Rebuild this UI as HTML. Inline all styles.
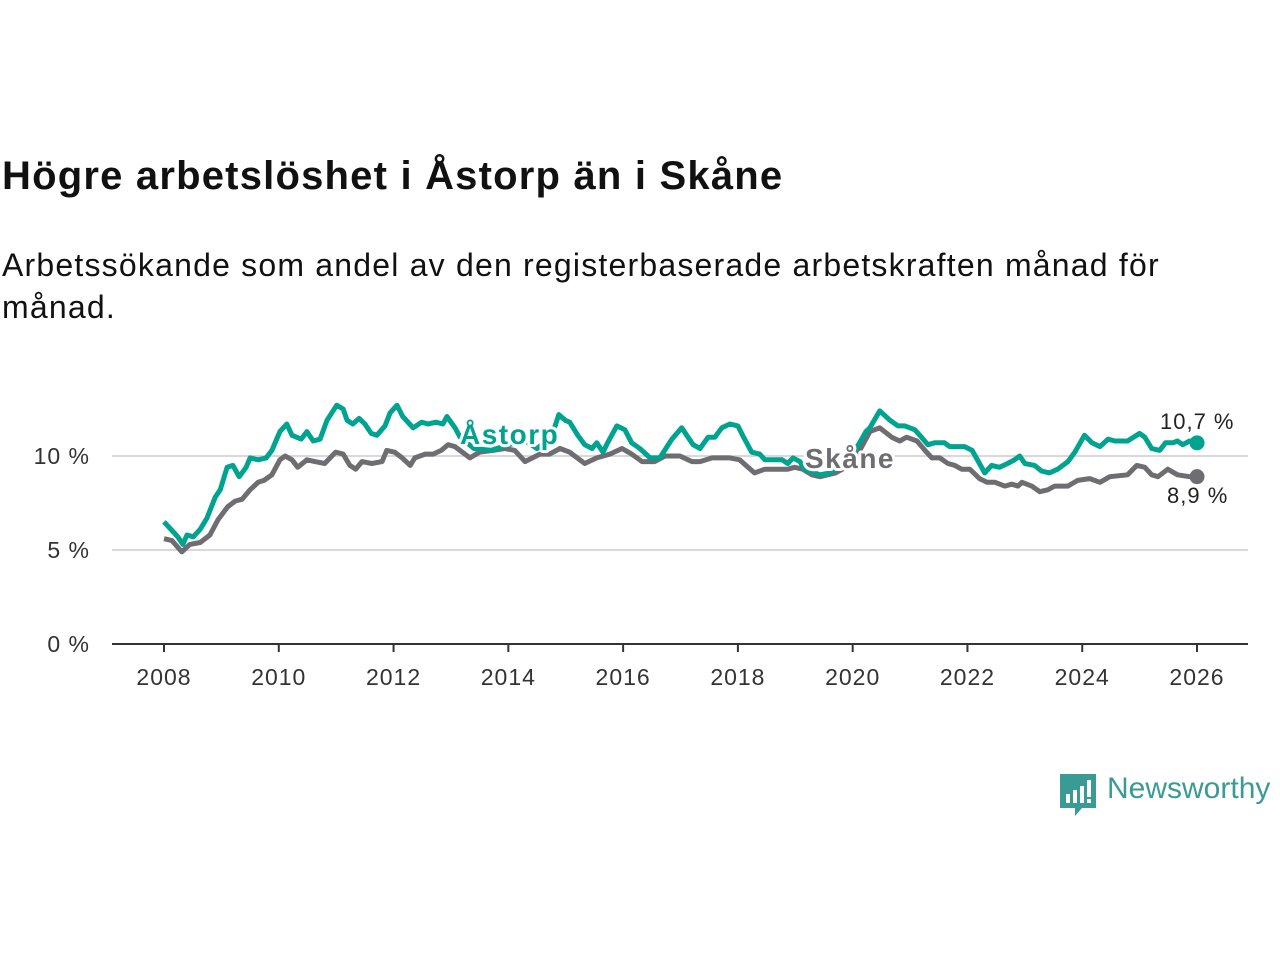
<!DOCTYPE html>
<html><head><meta charset="utf-8"><style>
body{margin:0;width:1280px;height:960px;background:#fff;font-family:"Liberation Sans",sans-serif;overflow:hidden;position:relative}
h1{position:absolute;left:2px;top:154px;margin:0;font-size:40px;font-weight:bold;color:#111;letter-spacing:1.2px}
p{position:absolute;left:2px;top:244px;margin:0;font-size:32px;line-height:42px;color:#111;width:1190px;letter-spacing:1.2px}
.logo{position:absolute;left:1060px;top:774px}
.brand{position:absolute;left:1107px;top:772px;font-size:30px;color:#3a9a94}
</style></head><body>
<h1>Högre arbetslöshet i Åstorp än i Skåne</h1>
<p>Arbetssökande som andel av den registerbaserade arbetskraften månad för månad.</p>
<svg id="chart" width="1280" height="960" style="position:absolute;left:0;top:0"></svg>
<svg class="logo" width="36" height="44" viewBox="0 0 36 44"><path d="M0 0H36V34H22L15 42V34H0Z" fill="#3a9a94"/><rect x="6" y="20" width="4" height="9" fill="#fff"/><rect x="13" y="16" width="4" height="13" fill="#fff"/><rect x="20" y="12" width="4" height="17" fill="#fff"/><rect x="27" y="6" width="4" height="17" fill="#fff"/><rect x="27" y="25" width="4" height="4" fill="#fff"/></svg>
<div class="brand">Newsworthy</div>
<script>
const yearTicks=[2008,2010,2012,2014,2016,2018,2020,2022,2024,2026];
const yTicks=[0,5,10];
const astorpT=[0,0.24,0.33,0.40,0.51,0.63,0.75,0.89,0.98,1.10,1.20,1.31,1.43,1.50,1.64,1.78,1.88,2.02,2.14,2.23,2.39,2.49,2.60,2.72,2.84,3.01,3.12,3.19,3.29,3.40,3.50,3.61,3.71,3.85,3.94,4.06,4.16,4.34,4.49,4.60,4.74,4.86,4.93,5.07,5.16,5.4,5.7,6.0,6.3,6.5,6.75,6.88,6.99,7.07,7.21,7.33,7.46,7.54,7.65,7.73,7.89,8.03,8.15,8.29,8.47,8.64,8.85,9.02,9.22,9.34,9.48,9.60,9.72,9.86,10.00,10.10,10.24,10.38,10.47,10.64,10.77,10.87,10.96,11.08,11.16,11.43,11.6,11.8,11.95,12.12,12.23,12.30,12.47,12.65,12.79,12.91,13.08,13.20,13.31,13.43,13.60,13.69,13.95,14.08,14.30,14.42,14.56,14.70,14.82,14.91,15.00,15.17,15.29,15.43,15.57,15.75,15.87,16.04,16.17,16.31,16.45,16.57,16.79,17.00,17.09,17.21,17.35,17.45,17.58,17.66,17.75,17.87,18.0];
const astorpV=[6.5,5.7,5.3,5.8,5.7,6.1,6.7,7.8,8.2,9.4,9.5,8.9,9.4,9.9,9.8,9.9,10.3,11.3,11.7,11.1,10.9,11.3,10.8,10.9,11.9,12.7,12.5,11.9,11.7,12.0,11.7,11.2,11.1,11.6,12.3,12.7,12.1,11.5,11.8,11.7,11.8,11.7,12.1,11.5,11.0,10.4,10.3,10.6,10.8,10.4,11.0,12.2,11.9,11.8,11.1,10.6,10.4,10.7,10.2,10.7,11.6,11.4,10.7,10.4,9.9,9.9,10.9,11.5,10.6,10.4,11.0,11.0,11.5,11.7,11.6,11.0,10.2,10.1,9.8,9.8,9.8,9.6,9.9,9.7,9.3,9.0,9.1,9.5,9.9,10.7,11.3,11.5,12.4,11.9,11.6,11.6,11.4,11.0,10.6,10.7,10.7,10.5,10.5,10.3,9.1,9.5,9.4,9.6,9.8,10.0,9.6,9.5,9.2,9.1,9.3,9.7,10.2,11.1,10.7,10.5,10.9,10.8,10.8,11.2,11.0,10.4,10.3,10.7,10.7,10.8,10.6,10.8,10.7];
const skaneT=[0,0.14,0.31,0.45,0.63,0.80,0.94,1.11,1.24,1.36,1.50,1.64,1.74,1.88,2.02,2.11,2.23,2.33,2.49,2.63,2.80,2.99,3.12,3.24,3.34,3.45,3.62,3.80,3.88,4.02,4.15,4.29,4.37,4.55,4.69,4.83,4.95,5.07,5.33,5.50,5.73,5.94,6.11,6.29,6.55,6.72,6.90,7.07,7.33,7.54,7.77,7.98,8.15,8.33,8.55,8.73,8.99,9.20,9.34,9.55,9.86,10.03,10.14,10.29,10.47,10.68,10.87,10.99,11.13,11.29,11.43,11.7,12.0,12.09,12.30,12.47,12.68,12.82,12.94,13.12,13.26,13.38,13.52,13.66,13.78,13.90,14.04,14.21,14.34,14.48,14.65,14.77,14.88,14.95,15.12,15.26,15.40,15.52,15.75,15.92,16.13,16.31,16.48,16.79,16.95,17.09,17.21,17.32,17.49,17.66,17.87,18.0];
const skaneV=[5.6,5.5,4.9,5.3,5.4,5.8,6.6,7.3,7.6,7.7,8.2,8.6,8.7,9.0,9.8,10.0,9.8,9.4,9.8,9.7,9.6,10.2,10.1,9.5,9.3,9.7,9.6,9.7,10.3,10.2,9.9,9.5,9.9,10.1,10.1,10.3,10.6,10.5,9.9,10.2,10.3,10.4,10.3,9.7,10.1,10.1,10.4,10.2,9.6,9.9,10.1,10.4,10.1,9.7,9.7,10.0,10.0,9.7,9.7,9.9,9.9,9.8,9.5,9.1,9.3,9.3,9.3,9.4,9.3,9.0,8.9,9.1,9.6,10.1,11.3,11.5,11.0,10.8,11.0,10.8,10.3,9.9,9.9,9.6,9.5,9.3,9.3,8.8,8.6,8.6,8.4,8.5,8.4,8.6,8.4,8.1,8.2,8.4,8.4,8.7,8.8,8.6,8.9,9.0,9.5,9.4,9.0,8.9,9.3,9.0,8.9,8.9];
const NS='http://www.w3.org/2000/svg';
const svg=document.getElementById('chart');
const x=t=>164+(t-2008)*57.39;
const y=v=>644-v*18.8;
function mk(tag,attrs,parent){const e=document.createElementNS(NS,tag);for(const k in attrs)e.setAttribute(k,attrs[k]);(parent||svg).appendChild(e);return e;}
yTicks.forEach(v=>{
  if(v>0){const g=mk('line',{x1:112,x2:1248,y1:y(v),y2:y(v),stroke:'#d9d9d9','stroke-width':2});
  
  }
  const t=mk('text',{x:90,y:y(v)+8,'text-anchor':'end','font-size':23,fill:'#333','letter-spacing':1});
  t.textContent=v+' %';
  
  
});
const ax=mk('line',{x1:112,x2:1248,y1:644,y2:644,stroke:'#333','stroke-width':2});


yearTicks.forEach(yr=>{
  const tk=mk('line',{x1:x(yr),x2:x(yr),y1:644,y2:652,stroke:'#333','stroke-width':2});
  
  
  const t=mk('text',{x:x(yr),y:685,'text-anchor':'middle','font-size':23,fill:'#333','letter-spacing':1});
  t.textContent=yr;
  
  
});
function line(T,V,color,name){
  const d=T.map((t,i)=>(i?'L':'M')+x(2008+t).toFixed(1)+' '+y(V[i]).toFixed(1)).join('');
  const p=mk('path',{d:d,fill:'none',stroke:color,'stroke-width':5,'stroke-linejoin':'round'});
  
  
  const c=mk('circle',{cx:x(2008+T[T.length-1]),cy:y(V[V.length-1]),r:7.5,fill:color});
  
  
}
line(skaneT,skaneV,'#6e6d72','skane-line');
line(astorpT,astorpV,'#00a38f','astorp-line');
function lab(txt,xx,yy,color,name,size,bold,halo,ls){
  const t=mk('text',{x:xx,y:yy,'font-size':size,fill:color,'font-weight':bold?'bold':'normal',stroke:halo?'#fff':'none','stroke-width':halo?6:0,'paint-order':'stroke','stroke-linejoin':'round','letter-spacing':ls});
  t.textContent=txt;
  
  
}
lab('Åstorp',460,444,'#00a38f','astorp-label',28,true,true,1.5);
lab('Skåne',805,468,'#6e6d72','skane-label',28,true,true,1.5);
lab('10,7 %',1160,429,'#222','astorp-last-value',22,false,true,1);
lab('8,9 %',1167,503,'#222','skane-last-value',22,false,true,1);
</script>
</body></html>
